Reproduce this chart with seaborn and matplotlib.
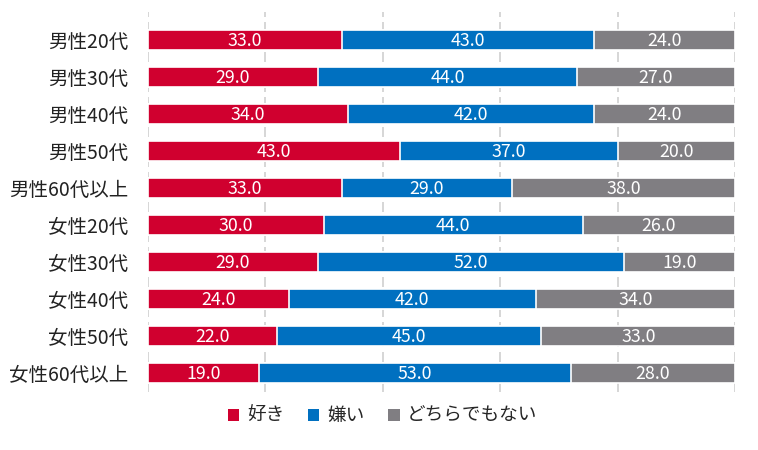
import matplotlib
matplotlib.use("Agg")
import matplotlib.pyplot as plt
import seaborn as sns
import pandas as pd
import numpy as np
from matplotlib.patches import Patch

groups = ["男性20代", "男性30代", "男性40代", "男性50代", "男性60代以上",
          "女性20代", "女性30代", "女性40代", "女性50代", "女性60代以上"]
like = [33.0, 29.0, 34.0, 43.0, 33.0, 30.0, 29.0, 24.0, 22.0, 19.0]
dislike = [43.0, 44.0, 42.0, 37.0, 29.0, 44.0, 52.0, 42.0, 45.0, 53.0]
neither = [24.0, 27.0, 24.0, 20.0, 38.0, 26.0, 19.0, 34.0, 33.0, 28.0]
series_names = ["好き", "嫌い", "どちらでもない"]
colors = ["#D0002F", "#0070C0", "#807E82"]

sns.set_style("white")
plt.rcParams['font.family'] = ['Noto Sans CJK JP', 'DejaVu Sans']

df = pd.DataFrame({"group": groups, "like": like, "dislike": dislike, "neither": neither})
df["c1"] = df["like"]
df["c2"] = df["like"] + df["dislike"]
df["c3"] = df["c2"] + df["neither"]

fig = plt.figure(figsize=(7.58, 4.5), dpi=100)
ax = fig.add_axes([0.195, 0.13, 0.775, 0.843])

# stacked bars drawn back to front
for col, c in zip(["c3", "c2", "c1"], colors[::-1]):
    sns.barplot(data=df, x=col, y="group", color=c, orient="h", width=0.54,
                edgecolor="white", linewidth=1.2, ax=ax, saturation=1, zorder=3)

for i, row in df.iterrows():
    starts = [0, row["c1"], row["c2"]]
    for s, v in zip(starts, [row["like"], row["dislike"], row["neither"]]):
        ax.text(s + v / 2, i + 0.03, f"{v:.1f}", ha="center", va="center",
                color="white", fontsize=12.8, zorder=5)

ax.set_xlim(0, 100)
ax.set_ylim(9.5, -0.75)
ax.set_xticks(np.arange(0, 101, 20))
ax.set_xticklabels([])
ax.xaxis.grid(True, color="#D0D0D0", linestyle=(0, (6, 3)), linewidth=1.2, zorder=0)
ax.set_axisbelow(True)
ax.tick_params(axis="both", length=0)
ax.tick_params(axis="y", labelsize=14, pad=14, colors="#222222")
ax.set_xlabel("")
ax.set_ylabel("")
for sp in ax.spines.values():
    sp.set_visible(False)

handles = [Patch(facecolor=c, edgecolor="none") for c in colors]
fig.legend(handles, series_names, loc="center", bbox_to_anchor=(0.505, 0.075),
           ncol=3, frameon=False, fontsize=13.4, handlelength=0.6, handleheight=0.6,
           handletextpad=0.4, columnspacing=1.3)

fig.savefig("out.png", dpi=100)
